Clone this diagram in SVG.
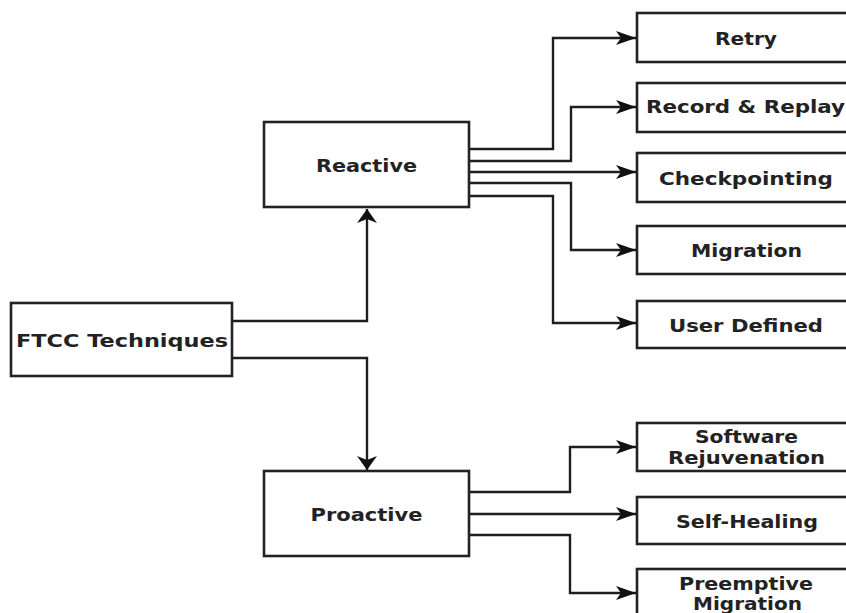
<svg xmlns="http://www.w3.org/2000/svg" width="846" height="613" viewBox="0 0 846 613">
  <style>
    .box { fill: #ffffff; stroke: #222222; stroke-width: 2.6; }
    .edge { fill: none; stroke: #1e1e1e; stroke-width: 2.4; }
    .lbl { font-family: "DejaVu Sans", "Liberation Sans", sans-serif; font-weight: bold; font-size: 17px; fill: #222222; text-anchor: middle; }
  </style>
  <defs>
    <!-- notched arrowhead for horizontal runs -->
    <marker id="arrH" markerUnits="userSpaceOnUse" markerWidth="20" markerHeight="14" refX="20" refY="7" orient="auto" overflow="visible">
      <path d="M0,0 L20,7 L0,14 L5,7 Z" fill="#111111"/>
    </marker>
    <!-- notched arrowhead for vertical runs -->
    <marker id="arrV" markerUnits="userSpaceOnUse" markerWidth="14" markerHeight="20" refX="14" refY="10" orient="auto" overflow="visible">
      <path d="M0,0 L14,10 L0,20 L4,10 Z" fill="#111111"/>
    </marker>
  </defs>

  <rect width="846" height="613" fill="#ffffff"/>

  <g id="connectors">
    <path class="edge" d="M232,321 H367 V209" marker-end="url(#arrV)"/>
    <path class="edge" d="M232,358 H367 V470" marker-end="url(#arrV)"/>
    <path class="edge" d="M469,149 H553 V38 H636" marker-end="url(#arrH)"/>
    <path class="edge" d="M469,161 H571 V107 H636" marker-end="url(#arrH)"/>
    <path class="edge" d="M469,172 H636" marker-end="url(#arrH)"/>
    <path class="edge" d="M469,183 H571 V250 H636" marker-end="url(#arrH)"/>
    <path class="edge" d="M469,196 H553 V323 H636" marker-end="url(#arrH)"/>
    <path class="edge" d="M469,492 H570 V447 H636" marker-end="url(#arrH)"/>
    <path class="edge" d="M469,514 H636" marker-end="url(#arrH)"/>
    <path class="edge" d="M469,535 H570 V593 H636" marker-end="url(#arrH)"/>
  </g>

  <g id="ftcc">
    <rect class="box" x="11" y="303" width="221" height="73"/>
    <text class="lbl" x="122" y="347" textLength="212" lengthAdjust="spacingAndGlyphs">FTCC Techniques</text>
  </g>

  <g id="reactive">
    <rect class="box" x="264" y="122" width="205" height="85"/>
    <text class="lbl" x="366.5" y="172" textLength="101" lengthAdjust="spacingAndGlyphs">Reactive</text>
  </g>

  <g id="proactive">
    <rect class="box" x="264" y="471" width="205" height="85"/>
    <text class="lbl" x="366.5" y="521" textLength="112" lengthAdjust="spacingAndGlyphs">Proactive</text>
  </g>

  <g id="retry">
    <rect class="box" x="637" y="13" width="220" height="49"/>
    <text class="lbl" x="746" y="45" textLength="62" lengthAdjust="spacingAndGlyphs">Retry</text>
  </g>

  <g id="record-replay">
    <rect class="box" x="637" y="83" width="220" height="49"/>
    <text class="lbl" x="745.5" y="113" textLength="199" lengthAdjust="spacingAndGlyphs">Record &amp; Replay</text>
  </g>

  <g id="checkpointing">
    <rect class="box" x="637" y="153" width="220" height="49"/>
    <text class="lbl" x="746" y="185" textLength="174" lengthAdjust="spacingAndGlyphs">Checkpointing</text>
  </g>

  <g id="migration">
    <rect class="box" x="637" y="226" width="220" height="48"/>
    <text class="lbl" x="746.5" y="257" textLength="111" lengthAdjust="spacingAndGlyphs">Migration</text>
  </g>

  <g id="user-defined">
    <rect class="box" x="637" y="301" width="220" height="47"/>
    <text class="lbl" x="746" y="332" textLength="154" lengthAdjust="spacingAndGlyphs">User Defined</text>
  </g>

  <g id="software-rejuvenation">
    <rect class="box" x="637" y="423" width="220" height="48"/>
    <text class="lbl" x="746.5" y="443" textLength="103" lengthAdjust="spacingAndGlyphs">Software</text>
    <text class="lbl" x="746.5" y="464" textLength="157" lengthAdjust="spacingAndGlyphs">Rejuvenation</text>
  </g>

  <g id="self-healing">
    <rect class="box" x="637" y="497" width="220" height="47"/>
    <text class="lbl" x="747" y="528" textLength="142" lengthAdjust="spacingAndGlyphs">Self-Healing</text>
  </g>

  <g id="preemptive-migration">
    <rect class="box" x="637" y="569" width="220" height="48"/>
    <text class="lbl" x="746" y="590" textLength="134" lengthAdjust="spacingAndGlyphs">Preemptive</text>
    <text class="lbl" x="747.5" y="610" textLength="109" lengthAdjust="spacingAndGlyphs">Migration</text>
  </g>
</svg>
